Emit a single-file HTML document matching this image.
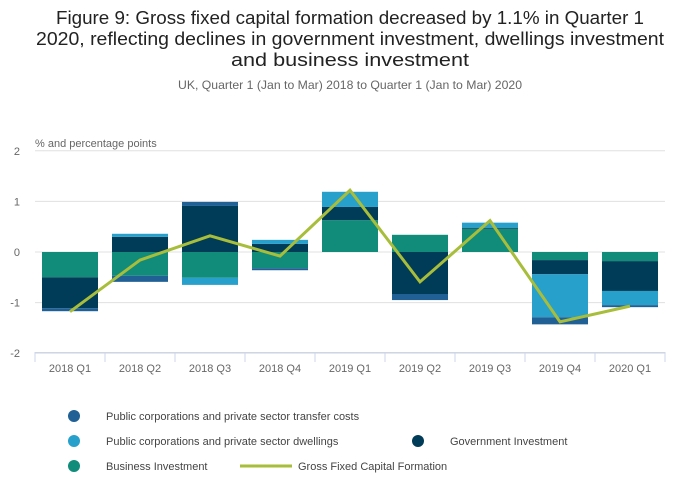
<!DOCTYPE html>
<html><head><meta charset="utf-8"><style>
body{margin:0;background:#fff;}
svg{display:block;font-family:"Liberation Sans",sans-serif;}
</style></head><body>
<svg id="chart" width="700" height="502" viewBox="0 0 700 502">
<text x="350" y="24" text-anchor="middle" font-size="18" fill="#222" textLength="588" lengthAdjust="spacingAndGlyphs">Figure 9: Gross fixed capital formation decreased by 1.1% in Quarter 1</text>
<text x="350" y="45" text-anchor="middle" font-size="18" fill="#222" textLength="628" lengthAdjust="spacingAndGlyphs">2020, reflecting declines in government investment, dwellings investment</text>
<text x="350" y="66" text-anchor="middle" font-size="18" fill="#222" textLength="238" lengthAdjust="spacingAndGlyphs">and business investment</text>
<text x="350" y="89" text-anchor="middle" font-size="12" fill="#666" textLength="344" lengthAdjust="spacingAndGlyphs">UK, Quarter 1 (Jan to Mar) 2018 to Quarter 1 (Jan to Mar) 2020</text>
<text x="35" y="147" font-size="11" fill="#666">% and percentage points</text>
<g id="grid"></g><g id="bars"></g><g id="line"></g><g id="xaxis"></g><g id="legend"></g>
</svg>
<script>
const categories=["2018 Q1","2018 Q2","2018 Q3","2018 Q4","2019 Q1","2019 Q2","2019 Q3","2019 Q4","2020 Q1"];
const transferCosts=[-0.06,-0.12,0.08,-0.04,0,-0.12,0,-0.14,-0.04];
const dwellings=[0,0.06,-0.14,0.08,0.30,0,0.10,-0.85,-0.28];
const government=[-0.61,0.30,0.91,0.16,0.26,-0.83,0.02,-0.28,-0.59];
const business=[-0.50,-0.47,-0.51,-0.32,0.63,0.34,0.46,-0.16,-0.18];
const gfcf=[-1.18,-0.16,0.32,-0.08,1.22,-0.59,0.62,-1.38,-1.07];
const yTicks=[2,1,0,-1,-2];
const NS="http://www.w3.org/2000/svg";
const x0=35,x1=665,bw=(x1-x0)/categories.length;
function y(v){return 252-v*50.6;}
function xc(i){return x0+bw*(i+0.5);}
function mk(tag,attrs,parent){const e=document.createElementNS(NS,tag);for(const k in attrs)e.setAttribute(k,attrs[k]);parent.appendChild(e);return e;}
const grid=document.getElementById('grid');
yTicks.forEach(t=>{
  const l=mk('line',{x1:x0,x2:x1,y1:y(t),y2:y(t),stroke:'#e0e0e0','stroke-width':1},grid);
  
  
  const tx=mk('text',{x:20,y:y(t)+4,'text-anchor':'end','font-size':11,fill:'#666'},grid);
  tx.textContent=t;
  
  
});
const series=[
 {name:'business',vals:business,color:'#118c7b'},
 {name:'government',vals:government,color:'#003c57'},
 {name:'dwellings',vals:dwellings,color:'#27a0cc'},
 {name:'transfer-costs',vals:transferCosts,color:'#206095'}];
const bars=document.getElementById('bars');
categories.forEach((c,i)=>{
  let pos=0,neg=0;
  series.forEach(s=>{
    const v=s.vals[i]; if(!v)return;
    let a,b;
    if(v>0){a=pos;b=pos+v;pos=b;}else{a=neg;b=neg+v;neg=b;}
    const r=mk('rect',{x:xc(i)-28,width:56,y:y(Math.max(a,b)),height:Math.abs(y(a)-y(b)),fill:s.color},bars);
    
    
  });
});
const pts=gfcf.map((v,i)=>xc(i)+','+y(v)).join(' ');
const pl=mk('polyline',{points:pts,fill:'none',stroke:'#a8bd3a','stroke-width':3,'stroke-linejoin':'miter'},document.getElementById('line'));


const xa=document.getElementById('xaxis');
const ax=mk('line',{x1:x0,x2:x1,y1:352.5,y2:352.5,stroke:'#ccd6eb'},xa);


for(let i=0;i<=categories.length;i++){
  const tk=mk('line',{x1:x0+bw*i,x2:x0+bw*i,y1:352,y2:362,stroke:'#ccd6eb'},xa);
  
  
}
categories.forEach((c,i)=>{
  const t=mk('text',{x:xc(i),y:372,'text-anchor':'middle','font-size':11,fill:'#666'},xa);
  t.textContent=c;
  
  
});
const lg=document.getElementById('legend');
const items=[
 {label:'Public corporations and private sector transfer costs',color:'#206095',cx:74,cy:416},
 {label:'Public corporations and private sector dwellings',color:'#27a0cc',cx:74,cy:441},
 {label:'Government Investment',color:'#003c57',cx:418,cy:441},
 {label:'Business Investment',color:'#118c7b',cx:74,cy:466}];
items.forEach(it=>{
  const g=mk('g',{},lg);
  
  
  mk('circle',{cx:it.cx,cy:it.cy,r:6,fill:it.color},g);
  const t=mk('text',{x:it.cx+32,y:it.cy+4,'font-size':11,fill:'#444'},g);
  t.textContent=it.label;
});
const g2=mk('g',{},lg);


mk('line',{x1:240,x2:292,y1:466,y2:466,stroke:'#a8bd3a','stroke-width':3},g2);
const t2=mk('text',{x:298,y:470,'font-size':11,fill:'#444'},g2);
t2.textContent='Gross Fixed Capital Formation';
</script>
</body></html>
